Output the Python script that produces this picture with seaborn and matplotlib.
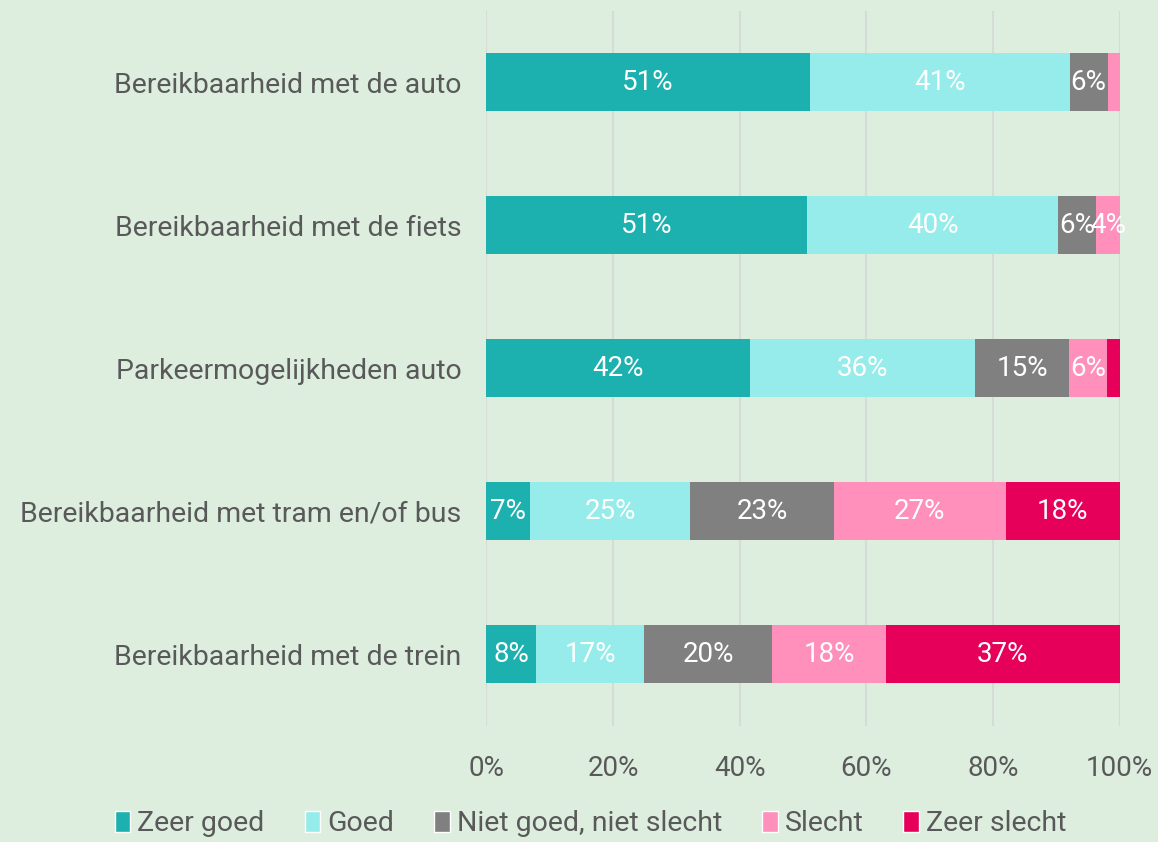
import pandas as pd
import matplotlib.pyplot as plt
import seaborn as sns
from matplotlib.patches import Patch

categories = [
    'Bereikbaarheid met de auto',
    'Bereikbaarheid met de fiets',
    'Parkeermogelijkheden auto',
    'Bereikbaarheid met tram en/of bus',
    'Bereikbaarheid met de trein',
]
zeer_goed = [51.1, 50.6, 41.6, 6.9, 7.9]
goed = [41.0, 39.7, 35.6, 25.3, 17.0]
neutraal = [6.0, 6.0, 14.8, 22.7, 20.2]
slecht = [1.9, 3.7, 6.0, 27.1, 18.0]
zeer_slecht = [0.0, 0.0, 2.0, 18.0, 36.9]

series_names = ['Zeer goed', 'Goed', 'Niet goed, niet slecht', 'Slecht', 'Zeer slecht']
colors = ['#1CB0AF', '#96ECEA', '#808080', '#FF8FBB', '#E6005A']
bg = '#DDEEDF'
text_grey = '#595959'

df = pd.DataFrame({
    'categorie': categories,
    'Zeer goed': zeer_goed,
    'Goed': goed,
    'Niet goed, niet slecht': neutraal,
    'Slecht': slecht,
    'Zeer slecht': zeer_slecht,
})
cum = df[series_names].cumsum(axis=1)

sns.set_style('white')
plt.rcParams['font.family'] = ['Roboto', 'DejaVu Sans']

fig = plt.figure(figsize=(11.58, 8.42), dpi=100, facecolor=bg)
ax = fig.add_axes([0.42, 0.138, 0.547, 0.849])
ax.set_facecolor(bg)

# stacked bars: draw cumulative totals from the back to the front
for name, color in reversed(list(zip(series_names, colors))):
    sns.barplot(x=cum[name], y=df['categorie'], color=color, orient='h',
                width=0.405, ax=ax, zorder=3, saturation=1, linewidth=0)

# labels in the middle of each segment
for i in range(len(categories)):
    for name in series_names:
        val = df.loc[i, name]
        if val >= 3:
            center = cum.loc[i, name] - val / 2
            ax.text(center, i, f'{round(val):.0f}%', ha='center', va='center',
                    color='white', fontsize=20, zorder=4)

ax.set_xlim(0, 100)
ax.set_ylim(4.5, -0.5)
ax.set_xticks(range(0, 101, 20))
ax.set_xticklabels([f'{t}%' for t in range(0, 101, 20)])
ax.grid(axis='x', color='#D6DBD6', linewidth=1.5, zorder=0)
ax.set_axisbelow(True)
ax.tick_params(axis='x', labelsize=20, colors=text_grey, pad=21, length=0)
ax.tick_params(axis='y', labelsize=20.5, colors=text_grey, pad=18, length=0)
ax.set_xlabel('')
ax.set_ylabel('')
sns.despine(ax=ax, left=True, bottom=True)

handles = [Patch(facecolor=c, label=n) for n, c in zip(series_names, colors)]
leg = fig.legend(handles=handles, loc='lower center', bbox_to_anchor=(0.51, -0.025),
                 ncol=5, frameon=False, fontsize=20.5, handlelength=0.55, handleheight=0.8,
                 handletextpad=0.25, columnspacing=1.4)
for t in leg.get_texts():
    t.set_color(text_grey)

fig.savefig('out.png', dpi=100, facecolor=bg)
